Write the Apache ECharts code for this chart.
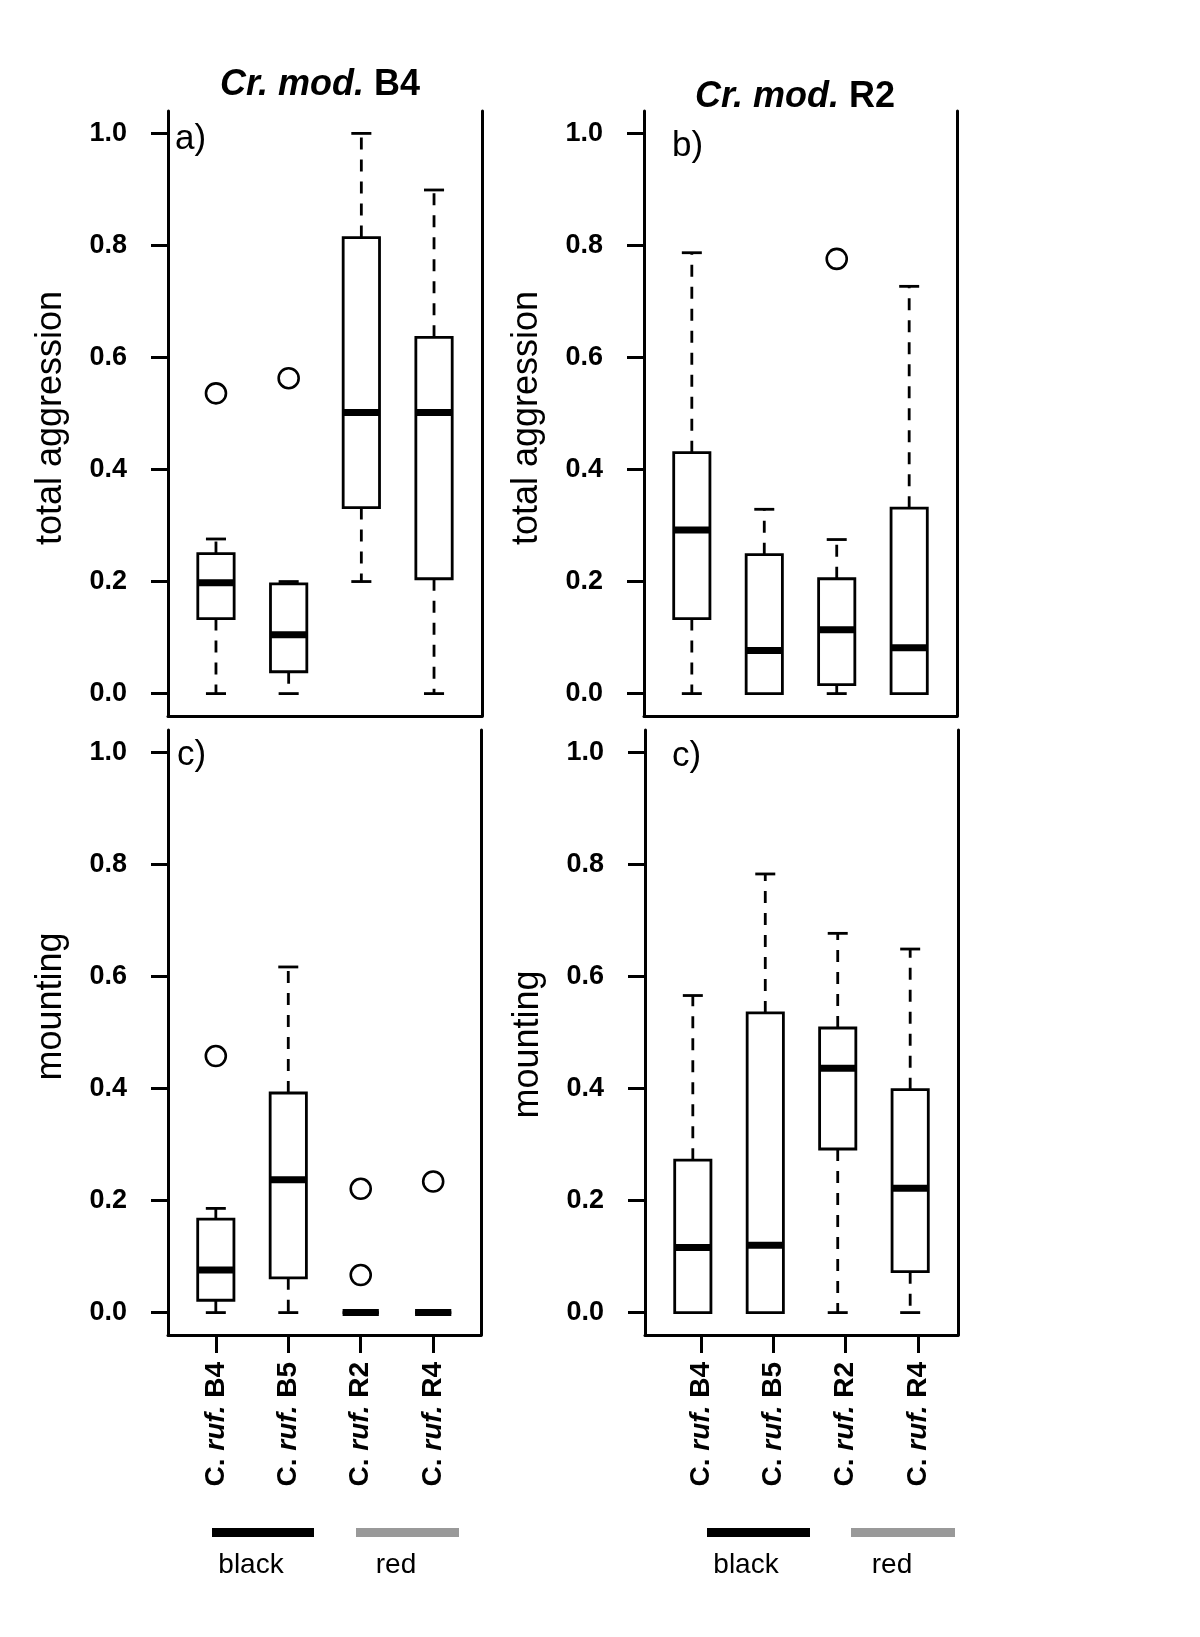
<!DOCTYPE html>
<html><head><meta charset="utf-8">
<script src="https://cdn.jsdelivr.net/npm/echarts@6/dist/echarts.min.js"></script>
<style>html,body{margin:0;padding:0;background:#fff}#c{width:1200px;height:1637px}</style>
</head><body><div id="c"></div>
<script>
const categories = ['B4', 'B5', 'R2', 'R4'];
const yTicks = [0, 0.2, 0.4, 0.6, 0.8, 1.0];
// each row: [lower whisker, Q1, median, Q3, upper whisker]
const aggressionB4Stats = [
  [0.00, 0.134, 0.198, 0.250, 0.276],
  [0.00, 0.039, 0.105, 0.196, 0.200],
  [0.20, 0.332, 0.502, 0.814, 1.000],
  [0.00, 0.205, 0.502, 0.636, 0.899]
];
const aggressionB4Outliers = [[0, 0.536], [1, 0.563]];
const aggressionR2Stats = [
  [0.00, 0.134, 0.292, 0.430, 0.787],
  [0.00, 0.000, 0.077, 0.248, 0.329],
  [0.00, 0.016, 0.114, 0.205, 0.275],
  [0.00, 0.000, 0.082, 0.331, 0.727]
];
const aggressionR2Outliers = [[2, 0.776]];
const mountingB4Stats = [
  [0.00, 0.022, 0.076, 0.167, 0.186],
  [0.00, 0.062, 0.237, 0.392, 0.617],
  [0.00, 0.000, 0.000, 0.000, 0.000],
  [0.00, 0.000, 0.000, 0.000, 0.000]
];
const mountingB4Outliers = [[0, 0.458], [2, 0.221], [2, 0.067], [3, 0.234]];
const mountingR2Stats = [
  [0.00, 0.000, 0.116, 0.272, 0.566],
  [0.00, 0.000, 0.120, 0.535, 0.783],
  [0.00, 0.292, 0.436, 0.508, 0.677],
  [0.00, 0.073, 0.222, 0.398, 0.649]
];
const mountingR2Outliers = [];
const panelTitles = ['Cr. mod. B4', 'Cr. mod. R2'];
const yNames = ['total aggression', 'total aggression', 'mounting', 'mounting'];
const panelLetters = ['a)', 'b)', 'c)', 'c)'];
const groupNames = ['black', 'red'];

const FF = '"Liberation Sans", Arial, Helvetica, sans-serif';
const statsList = [aggressionB4Stats, aggressionR2Stats, mountingB4Stats, mountingR2Stats];
const outList = [aggressionB4Outliers, aggressionR2Outliers, mountingB4Outliers, mountingR2Outliers];

const grids = [
  {left: 168, top: 111, width: 314, height: 605},
  {left: 644, top: 111, width: 313, height: 605},
  {left: 168, top: 730, width: 313, height: 605},
  {left: 645, top: 730, width: 313, height: 605}
];
const tickShift = [0, 0, 0, 0.11];
const namePad = [[0, 9, 0, 0], [0, 9, 0, 0], [0, 0, 0, 52], [0, 24, 0, 0]];

function renderBox(params, api) {
  const x = api.value(0);
  const lo = api.value(1), q1 = api.value(2), med = api.value(3), q3 = api.value(4), hi = api.value(5);
  const half = api.size([0.25, 0])[0];
  const capHalf = api.size([0.138, 0])[0];
  const pLo = api.coord([x, lo]), pQ1 = api.coord([x, q1]), pMed = api.coord([x, med]);
  const pQ3 = api.coord([x, q3]), pHi = api.coord([x, hi]);
  const cx = pMed[0];
  const solid = {stroke: '#000', lineWidth: 2.8, fill: null};
  const dashed = {stroke: '#000', lineWidth: 2.8, lineDash: [12, 10], fill: null};
  return {type: 'group', children: [
    {type: 'line', shape: {x1: cx, y1: pQ3[1], x2: cx, y2: pHi[1]}, style: dashed},
    {type: 'line', shape: {x1: cx, y1: pQ1[1], x2: cx, y2: pLo[1]}, style: dashed},
    {type: 'line', shape: {x1: cx - capHalf, y1: pHi[1], x2: cx + capHalf, y2: pHi[1]}, style: solid},
    {type: 'line', shape: {x1: cx - capHalf, y1: pLo[1], x2: cx + capHalf, y2: pLo[1]}, style: solid},
    {type: 'rect', shape: {x: cx - half, y: pQ3[1], width: 2 * half, height: pQ1[1] - pQ3[1]},
     style: {stroke: '#000', lineWidth: 2.8, fill: '#fff'}},
    {type: 'line', shape: {x1: cx - half, y1: pMed[1], x2: cx + half, y2: pMed[1]},
     style: {stroke: '#000', lineWidth: 7}}
  ]};
}

const xAxes = [], yAxes = [], series = [];
grids.forEach((g, i) => {
  const tickPos = categories.map((c, k) => k + 1 + tickShift[i]);
  const showX = i >= 2;
  xAxes.push({
    gridIndex: i, type: 'value', min: 0.34, max: 4.66,
    axisLine: {show: true, onZero: false, lineStyle: {color: '#000', width: 3}},
    splitLine: {show: false},
    axisTick: {show: showX, customValues: tickPos, length: 18, lineStyle: {color: '#000', width: 3}},
    axisLabel: {
      show: showX, customValues: tickPos, rotate: 90, margin: 27,
      formatter: v => '{n|C. }{i|ruf.}{n| ' + categories[Math.round(v) - 1] + '}',
      fontSize: 28, fontWeight: 'bold', color: '#000', fontFamily: FF,
      rich: {
        n: {fontSize: 28, fontWeight: 'bold', color: '#000', fontFamily: FF},
        i: {fontSize: 28, fontWeight: 'bold', fontStyle: 'italic', color: '#000', fontFamily: FF}
      }
    }
  });
  yAxes.push({
    gridIndex: i, type: 'value', min: -0.04, max: 1.04, position: 'left',
    axisLine: {show: true, onZero: false, lineStyle: {color: '#000', width: 3}},
    axisTick: {show: true, customValues: yTicks, length: 17, lineStyle: {color: '#000', width: 3}},
    axisLabel: {customValues: yTicks, margin: 41, formatter: v => v.toFixed(1),
      fontSize: 27, fontWeight: 'bold', color: '#000', fontFamily: FF},
    splitLine: {show: false},
    name: yNames[i], nameLocation: 'middle', nameGap: 99,
    nameTextStyle: {fontSize: 36, color: '#000', fontFamily: FF, padding: namePad[i]}
  });
  yAxes.push({
    gridIndex: i, type: 'value', min: -0.04, max: 1.04, position: 'right',
    axisLine: {show: true, onZero: false, lineStyle: {color: '#000', width: 3}},
    axisTick: {show: false}, axisLabel: {show: false}, splitLine: {show: false}
  });
  series.push({
    type: 'custom', xAxisIndex: i, yAxisIndex: 2 * i,
    renderItem: renderBox,
    encode: {x: 0, y: [1, 2, 3, 4, 5]},
    data: statsList[i].map((s, k) => [k + 1].concat(s)),
    z: 3
  });
  series.push({
    type: 'scatter', xAxisIndex: i, yAxisIndex: 2 * i,
    symbol: 'circle', symbolSize: 20,
    itemStyle: {color: 'rgba(0,0,0,0)', borderColor: '#000', borderWidth: 2.6, opacity: 1},
    data: outList[i].map(o => [o[0] + 1, o[1]]),
    z: 4
  });
});

function txt(x, y, text, size, align, extra) {
  return Object.assign({type: 'text', x: x, y: y, z: 10, style: {
    text: text, fontSize: size, fontFamily: FF, fill: '#000',
    align: align, textAlign: align, verticalAlign: 'middle', textVerticalAlign: 'middle'
  }}, extra || {});
}
const titleRich = {
  i: {fontSize: 36, fontWeight: 'bold', fontStyle: 'italic', fontFamily: FF, fill: '#000', color: '#000'},
  b: {fontSize: 36, fontWeight: 'bold', fontFamily: FF, fill: '#000', color: '#000'}
};
function titleEl(x, y, t) {
  const parts = t.split(' ');
  const code = parts.pop();
  return {type: 'text', x: x, y: y, z: 10, style: {
    text: '{i|' + parts.join(' ') + '} {b|' + code + '}', rich: titleRich,
    fontSize: 36, fontWeight: 'bold', fontFamily: FF, fill: '#000',
    align: 'center', textAlign: 'center', verticalAlign: 'middle', textVerticalAlign: 'middle'
  }};
}

const graphics = [
  titleEl(320, 85, panelTitles[0]),
  titleEl(795, 97, panelTitles[1]),
  txt(175, 139, panelLetters[0], 35, 'left'),
  txt(672, 146, panelLetters[1], 35, 'left'),
  txt(177, 755, panelLetters[2], 35, 'left'),
  txt(672, 756, panelLetters[3], 35, 'left'),
  {type: 'rect', shape: {x: 212, y: 1528, width: 102, height: 9}, style: {fill: '#000'}},
  {type: 'rect', shape: {x: 356, y: 1528, width: 103, height: 9}, style: {fill: '#999999'}},
  {type: 'rect', shape: {x: 707, y: 1528, width: 103, height: 9}, style: {fill: '#000'}},
  {type: 'rect', shape: {x: 851, y: 1528, width: 104, height: 9}, style: {fill: '#999999'}},
  txt(251, 1565, groupNames[0], 28, 'center'),
  txt(396, 1565, groupNames[1], 28, 'center'),
  txt(746, 1565, groupNames[0], 28, 'center'),
  txt(892, 1565, groupNames[1], 28, 'center')
];

const chart = echarts.init(document.getElementById('c'), null, {renderer: 'canvas'});
chart.setOption({
  animation: false,
  backgroundColor: '#fff',
  grid: grids,
  xAxis: xAxes,
  yAxis: yAxes,
  series: series,
  graphic: graphics
});
</script>
</body></html>
